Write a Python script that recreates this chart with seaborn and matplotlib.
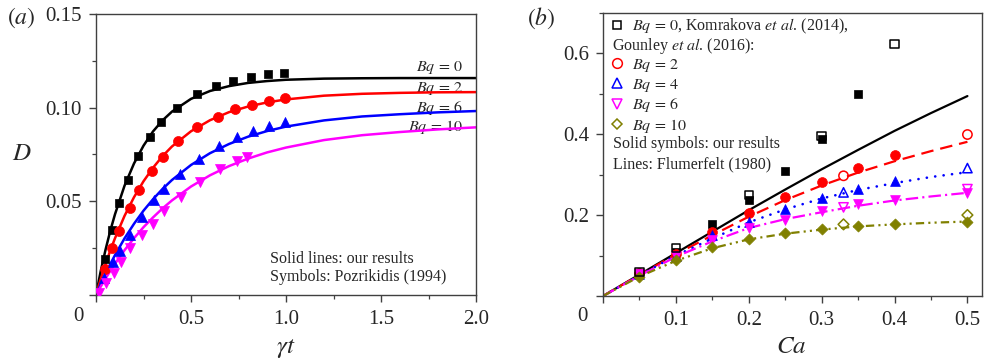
import numpy as np
import pandas as pd
import matplotlib
matplotlib.use("Agg")
import matplotlib.pyplot as plt
from matplotlib.lines import Line2D
from matplotlib.ticker import MultipleLocator, FixedLocator, FixedFormatter
import seaborn as sns

# ---------------- data: panel (a) ----------------
# Pozrikidis (1994) symbols
a_sq_x = [0.047, 0.083, 0.121, 0.170, 0.223, 0.284, 0.344, 0.425, 0.530, 0.632, 0.723, 0.814, 0.907, 0.991]
a_sq_y = [0.0194, 0.0347, 0.0490, 0.0614, 0.0742, 0.0845, 0.0924, 0.1000, 0.1071, 0.1116, 0.1143, 0.1166, 0.1178, 0.1187]
a_ci_x = [0.047, 0.086, 0.121, 0.179, 0.228, 0.293, 0.351, 0.433, 0.533, 0.640, 0.732, 0.819, 0.911, 0.995]
a_ci_y = [0.0137, 0.0249, 0.0340, 0.0466, 0.0561, 0.0664, 0.0738, 0.0822, 0.0899, 0.0952, 0.0991, 0.1014, 0.1037, 0.1050]
a_tu_x = [0.044, 0.091, 0.126, 0.179, 0.240, 0.305, 0.358, 0.442, 0.544, 0.649, 0.741, 0.828, 0.912, 0.995]
a_tu_y = [0.0089, 0.0175, 0.0237, 0.0320, 0.0415, 0.0507, 0.0564, 0.0646, 0.0724, 0.0797, 0.0845, 0.0877, 0.0904, 0.0925]
a_td_x = [0.016, 0.053, 0.095, 0.130, 0.179, 0.240, 0.298, 0.360, 0.447, 0.547, 0.653, 0.741, 0.793]
a_td_y = [0.0012, 0.0062, 0.0116, 0.0175, 0.0249, 0.0320, 0.0379, 0.0450, 0.0525, 0.0605, 0.0671, 0.0717, 0.0738]

# our results (solid lines)
a_t = [0, 0.025, 0.05, 0.075, 0.1, 0.15, 0.2, 0.25, 0.3, 0.35, 0.4, 0.5, 0.6, 0.7,
       0.8, 0.9, 1.0, 1.2, 1.4, 1.6, 1.8, 2.0]
a_bq0 = [0, 0.0128, 0.0241, 0.0342, 0.0431, 0.0583, 0.0702, 0.0797, 0.0873, 0.0932, 0.0979,
         0.1047, 0.1089, 0.1115, 0.1132, 0.1142, 0.1149, 0.1155, 0.1157, 0.1158, 0.1158, 0.1158]
a_bq2 = [0, 0.0085, 0.0164, 0.0237, 0.0303, 0.0422, 0.0522, 0.0607, 0.0679, 0.0741, 0.0793,
         0.0874, 0.0933, 0.0976, 0.1006, 0.1028, 0.1044, 0.1064, 0.1074, 0.1079, 0.1082, 0.1083]
a_bq6 = [0, 0.0058, 0.0113, 0.0165, 0.0213, 0.0302, 0.0380, 0.0450, 0.0511, 0.0566, 0.0614,
         0.0694, 0.0757, 0.0806, 0.0845, 0.0875, 0.0899, 0.0932, 0.0953, 0.0965, 0.0975, 0.0982]
a_bq10 = [0, 0.0045, 0.0088, 0.0128, 0.0167, 0.0239, 0.0303, 0.0362, 0.0414, 0.0462, 0.0505,
          0.0579, 0.0639, 0.0688, 0.0728, 0.0761, 0.0787, 0.0827, 0.0853, 0.0870, 0.0884, 0.0895]

a_labels = [r"$Bq\,=\,0$", r"$Bq\,=\,2$", r"$Bq\,=\,6$", r"$Bq\,=\,10$"]
a_label_y = [0.1212, 0.1100, 0.0998, 0.0895]
a_xticks = [0, 0.5, 1.0, 1.5, 2.0]
a_xticklabels = ["", "0.5", "1.0", "1.5", "2.0"]
a_yticks = [0, 0.05, 0.10, 0.15]
a_yticklabels = ["", "0.05", "0.10", "0.15"]

# ---------------- data: panel (b) ----------------
b_ca = [0, 0.05, 0.1, 0.15, 0.2, 0.25, 0.3, 0.35, 0.4, 0.45, 0.5]
b_line0 = [0, 0.053, 0.106, 0.159, 0.212, 0.263, 0.313, 0.361, 0.408, 0.452, 0.494]
b_line2 = [0, 0.052, 0.103, 0.150, 0.196, 0.237, 0.273, 0.305, 0.333, 0.358, 0.381]
b_line4 = [0, 0.051, 0.100, 0.142, 0.182, 0.214, 0.241, 0.262, 0.279, 0.294, 0.306]
b_line6 = [0, 0.050, 0.097, 0.135, 0.168, 0.190, 0.207, 0.223, 0.236, 0.246, 0.255]
b_line10 = [0, 0.048, 0.087, 0.118, 0.140, 0.154, 0.164, 0.172, 0.177, 0.181, 0.184]

# solid symbols: our results
b_f0_x = [0.05, 0.1, 0.15, 0.2, 0.25, 0.3, 0.35]
b_f0_y = [0.057, 0.108, 0.178, 0.238, 0.309, 0.389, 0.500]
b_f2_x = [0.05, 0.1, 0.15, 0.2, 0.25, 0.3, 0.35, 0.4]
b_f2_y = [0.057, 0.105, 0.159, 0.204, 0.245, 0.282, 0.316, 0.349]
b_f4_x = [0.05, 0.1, 0.15, 0.2, 0.25, 0.3, 0.35, 0.4]
b_f4_y = [0.055, 0.100, 0.150, 0.183, 0.216, 0.243, 0.264, 0.284]
b_f6_x = [0.05, 0.1, 0.15, 0.2, 0.25, 0.3, 0.35, 0.4, 0.5]
b_f6_y = [0.054, 0.098, 0.138, 0.167, 0.187, 0.210, 0.227, 0.238, 0.255]
b_f10_x = [0.05, 0.1, 0.15, 0.2, 0.25, 0.3, 0.35, 0.4, 0.5]
b_f10_y = [0.048, 0.089, 0.120, 0.141, 0.155, 0.165, 0.173, 0.178, 0.182]

# open symbols: Komrakova et al. (2014), Gounley et al. (2016)
b_o0_x = [0.05, 0.1, 0.2, 0.3, 0.4]
b_o0_y = [0.060, 0.118, 0.249, 0.395, 0.623]
b_o2_x = [0.33, 0.5]
b_o2_y = [0.297, 0.399]
b_o4_x = [0.33, 0.5]
b_o4_y = [0.256, 0.316]
b_o6_x = [0.33, 0.5]
b_o6_y = [0.219, 0.264]
b_o10_x = [0.33, 0.5]
b_o10_y = [0.177, 0.200]

b_legend_labels = [r"$Bq\,=\,0$, Komrakova $\mathit{et\ al}$. (2014),", " ",
                   r"$Bq\,=\,2$", r"$Bq\,=\,4$", r"$Bq\,=\,6$", r"$Bq\,=\,10$"]
b_xticks = [0, 0.1, 0.2, 0.3, 0.4, 0.5]
b_xticklabels = ["", "0.1", "0.2", "0.3", "0.4", "0.5"]
b_yticks = [0, 0.2, 0.4, 0.6]
b_yticklabels = ["", "0.2", "0.4", "0.6"]

# ---------------- style ----------------
sns.set_style("ticks")
plt.rcParams["font.family"] = ["Liberation Serif", "DejaVu Serif"]
plt.rcParams["mathtext.fontset"] = "stix"
plt.rcParams["lines.scale_dashes"] = False

BLACK, RED, BLUE, MAG, OLIVE = "#000000", "#ff0000", "#0000ff", "#ff00ff", "#808000"
SPINE = "#404040"

fig = plt.figure(figsize=(9.84, 3.61), dpi=100)
axA = fig.add_axes([96 / 984, 1 - 295 / 361, 380 / 984, 281 / 361])
axB = fig.add_axes([603 / 984, 1 - 296 / 361, 379 / 984, 283.3 / 361])


def style_axes(ax):
    for s in ax.spines.values():
        s.set_visible(True)
        s.set_color(SPINE)
        s.set_linewidth(1.0)
    ax.tick_params(which="major", direction="out", length=5, width=1.0, color=SPINE,
                   labelsize=15, pad=5, top=False, right=False)
    ax.tick_params(which="minor", direction="out", length=3, width=0.9, color=SPINE,
                   top=False, right=False)
    ax.tick_params(axis="x", which="major", pad=6)
    ax.grid(False)


# ---------------- panel (a) ----------------
for ys, c in [(a_bq0, BLACK), (a_bq2, RED), (a_bq6, BLUE), (a_bq10, MAG)]:
    sns.lineplot(x=a_t, y=ys, color=c, lw=1.8, ax=axA, zorder=2)
sns.scatterplot(x=a_sq_x, y=a_sq_y, marker="s", s=40, color=BLACK, edgecolor=BLACK, linewidth=0.5, ax=axA, zorder=3)
sns.scatterplot(x=a_ci_x, y=a_ci_y, marker="o", s=52, color=RED, edgecolor=RED, linewidth=0.5, ax=axA, zorder=3)
sns.scatterplot(x=a_tu_x, y=a_tu_y, marker="^", s=52, color=BLUE, edgecolor=BLUE, linewidth=0.5, ax=axA, zorder=3)
sns.scatterplot(x=a_td_x, y=a_td_y, marker="v", s=52, color=MAG, edgecolor=MAG, linewidth=0.5, ax=axA, zorder=3)

for lab, yy in zip(a_labels, a_label_y):
    axA.text(1.93, yy, lab, ha="right", va="center", fontsize=11.5, zorder=1)

axA.set_xlim(0, 2.0)
axA.set_ylim(0, 0.15)
axA.xaxis.set_major_locator(FixedLocator(a_xticks))
axA.xaxis.set_major_formatter(FixedFormatter(a_xticklabels))
axA.xaxis.set_minor_locator(MultipleLocator(0.25))
axA.yaxis.set_major_locator(FixedLocator(a_yticks))
axA.yaxis.set_major_formatter(FixedFormatter(a_yticklabels))
axA.yaxis.set_minor_locator(MultipleLocator(0.025))
style_axes(axA)
axA.set_xlabel(r"$\gamma t$", fontsize=18, va="center")
axA.xaxis.set_label_coords(0.5, -0.19)
axA.set_ylabel(r"$D$", fontsize=18, rotation=0, va="center", ha="center")
axA.yaxis.set_label_coords(-0.195, 0.5)
axA.text(-0.047, -0.078, "0", transform=axA.transAxes, ha="center", va="center", fontsize=15)
axA.text(0.458, 0.128, "Solid lines: our results", transform=axA.transAxes,
         ha="left", va="center", fontsize=11.5)
axA.text(0.458, 0.064, "Symbols: Pozrikidis (1994)", transform=axA.transAxes,
         ha="left", va="center", fontsize=11.5)

# ---------------- panel (b) ----------------
sns.lineplot(x=b_ca, y=b_line0, color=BLACK, lw=1.6, ax=axB, zorder=2)
sns.lineplot(x=b_ca, y=b_line2, color=RED, lw=1.6, linestyle=(0, (9, 5)), ax=axB, zorder=2)
sns.lineplot(x=b_ca, y=b_line4, color=BLUE, lw=1.9, linestyle=(0, (0.1, 6)),
             dash_capstyle="round", ax=axB, zorder=2)
sns.lineplot(x=b_ca, y=b_line6, color=MAG, lw=1.6, linestyle=(0, (9, 3, 1.5, 3)), ax=axB, zorder=2)
sns.lineplot(x=b_ca, y=b_line10, color=OLIVE, lw=1.6, linestyle=(0, (6, 3, 1.5, 3, 1.5, 3)), ax=axB, zorder=2)

fs = dict(linewidth=0.5, ax=axB, zorder=3)
sns.scatterplot(x=b_f0_x, y=b_f0_y, marker="s", s=40, color=BLACK, edgecolor=BLACK, **fs)
sns.scatterplot(x=b_f2_x, y=b_f2_y, marker="o", s=50, color=RED, edgecolor=RED, **fs)
sns.scatterplot(x=b_f4_x, y=b_f4_y, marker="^", s=50, color=BLUE, edgecolor=BLUE, **fs)
sns.scatterplot(x=b_f6_x, y=b_f6_y, marker="v", s=50, color=MAG, edgecolor=MAG, **fs)
sns.scatterplot(x=b_f10_x, y=b_f10_y, marker="D", s=32, color=OLIVE, edgecolor=OLIVE, **fs)

os_ = dict(linewidth=1.1, ax=axB, zorder=3, facecolor="none")
sns.scatterplot(x=b_o0_x, y=b_o0_y, marker="s", s=36, edgecolor=BLACK, **os_)
sns.scatterplot(x=b_o2_x, y=b_o2_y, marker="o", s=45, edgecolor=RED, **os_)
sns.scatterplot(x=b_o4_x, y=b_o4_y, marker="^", s=45, edgecolor=BLUE, **os_)
sns.scatterplot(x=b_o6_x, y=b_o6_y, marker="v", s=45, edgecolor=MAG, **os_)
sns.scatterplot(x=b_o10_x, y=b_o10_y, marker="D", s=30, edgecolor=OLIVE, **os_)

handles = [
    Line2D([], [], ls="none", marker="s", ms=6, mfc="none", mec=BLACK, mew=1.1),
    Line2D([], [], ls="none", marker=None),
    Line2D([], [], ls="none", marker="o", ms=7, mfc="none", mec=RED, mew=1.1),
    Line2D([], [], ls="none", marker="^", ms=7, mfc="none", mec=BLUE, mew=1.1),
    Line2D([], [], ls="none", marker="v", ms=7, mfc="none", mec=MAG, mew=1.1),
    Line2D([], [], ls="none", marker="D", ms=5.5, mfc="none", mec=OLIVE, mew=1.1),
]
axB.legend(handles, b_legend_labels, loc="upper left", bbox_to_anchor=(0.016, 0.986),
           frameon=False, fontsize=11.5, handlelength=1.0, handletextpad=0.45,
           borderpad=0, borderaxespad=0, labelspacing=0.16)
axB.text(0.024, 0.884, r"Gounley $\mathit{et\ al}$. (2016):", transform=axB.transAxes,
         ha="left", va="center", fontsize=11.5)
axB.text(0.026, 0.537, "Solid symbols: our results", transform=axB.transAxes,
         ha="left", va="center", fontsize=11.5)
axB.text(0.026, 0.466, "Lines: Flumerfelt (1980)", transform=axB.transAxes,
         ha="left", va="center", fontsize=11.5)

axB.set_xlim(0, 0.52)
axB.set_ylim(0, 0.7)
axB.xaxis.set_major_locator(FixedLocator(b_xticks))
axB.xaxis.set_major_formatter(FixedFormatter(b_xticklabels))
axB.xaxis.set_minor_locator(MultipleLocator(0.05))
axB.yaxis.set_major_locator(FixedLocator(b_yticks))
axB.yaxis.set_major_formatter(FixedFormatter(b_yticklabels))
axB.yaxis.set_minor_locator(MultipleLocator(0.1))
style_axes(axB)
axB.set_xlabel(r"$Ca$", fontsize=18, va="center")
axB.xaxis.set_label_coords(0.498, -0.18)
axB.set_ylabel("")
axB.text(-0.053, -0.074, "0", transform=axB.transAxes, ha="center", va="center", fontsize=15)

fig.text(21.5 / 984, 1 - 18 / 361, r"$(a)$", ha="center", va="center", fontsize=17)
fig.text(541 / 984, 1 - 18 / 361, r"$(b)$", ha="center", va="center", fontsize=17)

fig.savefig("out.png", dpi=100)
